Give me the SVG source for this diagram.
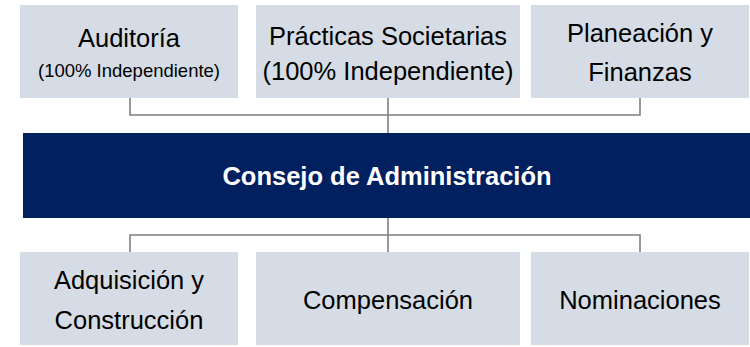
<svg xmlns="http://www.w3.org/2000/svg" width="750" height="347" viewBox="0 0 750 347">
<style>
.box{fill:#D6DCE5}
.t{font-family:"Liberation Sans",Arial,sans-serif;font-size:25.5px;fill:#000;text-anchor:middle}
.s{font-size:18.5px}
.b{font-weight:bold;fill:#fff}
.c{fill:none;stroke:#7F7F7F;stroke-width:1.6}
</style>
<rect width="750" height="347" fill="#fff"/>
<g id="connectors">
<path class="c" d="M130 98V115H640V98M388 98V133"/>
<path class="c" d="M388 218V252M130 252V235H640V252"/>
</g>
<g id="auditoria">
<rect class="box" x="20" y="5" width="218" height="93"/>
<text class="t" x="129" y="47">Auditoría</text>
<text class="t s" x="129" y="77">(100% Independiente)</text>
</g>
<g id="practicas">
<rect class="box" x="256" y="5" width="264" height="93"/>
<text class="t" x="388" y="45">Prácticas Societarias</text>
<text class="t" x="388" y="80">(100% Independiente)</text>
</g>
<g id="planeacion">
<rect class="box" x="531" y="5" width="218" height="93"/>
<text class="t" x="640" y="42">Planeación y</text>
<text class="t" x="640" y="81">Finanzas</text>
</g>
<g id="consejo">
<rect x="23" y="133" width="727" height="85" fill="#002060"/>
<text class="t b" x="387" y="184.5">Consejo de Administración</text>
</g>
<g id="adquisicion">
<rect class="box" x="20" y="252" width="218" height="93"/>
<text class="t" x="129" y="289">Adquisición y</text>
<text class="t" x="129" y="329">Construcción</text>
</g>
<g id="compensacion">
<rect class="box" x="256" y="252" width="264" height="93"/>
<text class="t" x="388" y="309">Compensación</text>
</g>
<g id="nominaciones">
<rect class="box" x="531" y="252" width="218" height="93"/>
<text class="t" x="640" y="309">Nominaciones</text>
</g>
</svg>
